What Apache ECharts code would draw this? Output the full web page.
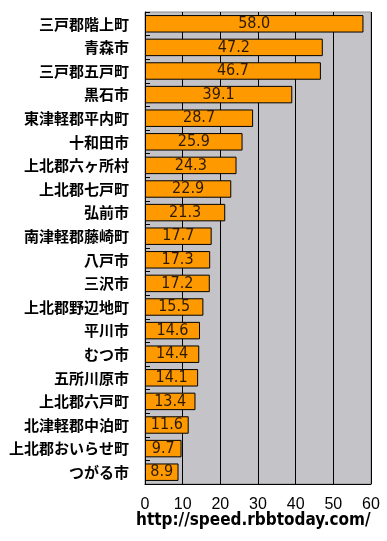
<!DOCTYPE html>
<html>
<head>
<meta charset="utf-8">
<script src="https://cdn.jsdelivr.net/npm/echarts@6/dist/echarts.min.js"></script>
<style>
  html, body { margin: 0; padding: 0; background: #fff; }
  #chart { width: 387px; height: 541px; }
</style>
</head>
<body>
<div id="chart"></div>
<script>
// 市町村名（上から順）
const cities = [
  '三戸郡階上町', '青森市', '三戸郡五戸町', '黒石市', '東津軽郡平内町',
  '十和田市', '上北郡六ヶ所村', '上北郡七戸町', '弘前市', '南津軽郡藤崎町',
  '八戸市', '三沢市', '上北郡野辺地町', '平川市', 'むつ市',
  '五所川原市', '上北郡六戸町', '北津軽郡中泊町', '上北郡おいらせ町', 'つがる市'
]
// 速度の値
const speeds = [
  58.0, 47.2, 46.7, 39.1, 28.7,
  25.9, 24.3, 22.9, 21.3, 17.7,
  17.3, 17.2, 15.5, 14.6, 14.4,
  14.1, 13.4, 11.6, 9.7, 8.9
]
const xTicks = [0, 10, 20, 30, 40, 50, 60]
const sourceText = 'http://speed.rbbtoday.com/'

const chart = echarts.init(document.getElementById('chart'))
chart.setOption({
  animation: false,
  textStyle: { fontFamily: '"Noto Sans CJK JP", sans-serif' },
  grid: {
    left: 145,
    right: 16,
    top: 12,
    bottom: 57,
    show: true,
    backgroundColor: '#c4c4c8',
    borderColor: '#8c8c8c',
    borderWidth: 1,
  },
  xAxis: {
    type: 'value',
    min: xTicks[0],
    max: xTicks[xTicks.length - 1],
    interval: 10,
    axisLine: { show: true, lineStyle: { color: '#000', width: 1 } },
    axisTick: { show: false },
    splitLine: { show: true, lineStyle: { color: '#000', width: 1 } },
    axisLabel: {
      color: '#000',
      fontSize: 16,
      margin: 13,
      fontFamily: '"Liberation Sans", sans-serif',
    },
  },
  yAxis: {
    type: 'category',
    data: cities,
    inverse: true,
    axisLine: { show: true, lineStyle: { color: '#000' } },
    axisTick: { show: true, inside: true, length: 5, lineStyle: { color: '#000' } },
    axisLabel: {
      color: '#000',
      fontSize: 15,
      fontWeight: 'bold',
      margin: 16,
    },
  },
  series: [
    {
      type: 'bar',
      data: speeds,
      barCategoryGap: '26%',
      itemStyle: {
        color: '#ff9900',
        borderColor: '#000',
        borderWidth: 1,
      },
      label: {
        show: true,
        position: 'inside',
        color: '#2b1a00',
        fontSize: 16,
        fontFamily: '"DejaVu Sans Condensed", sans-serif',
        formatter: (p) => p.value.toFixed(1),
      },
    },
  ],
  graphic: [
    {
      type: 'text',
      left: 136,
      top: 512,
      style: {
        text: sourceText,
        fill: '#000',
        fontSize: 17,
        fontWeight: 'bold',
        fontFamily: '"DejaVu Sans Condensed", sans-serif',
      },
    },
  ],
})
</script>
</body>
</html>
